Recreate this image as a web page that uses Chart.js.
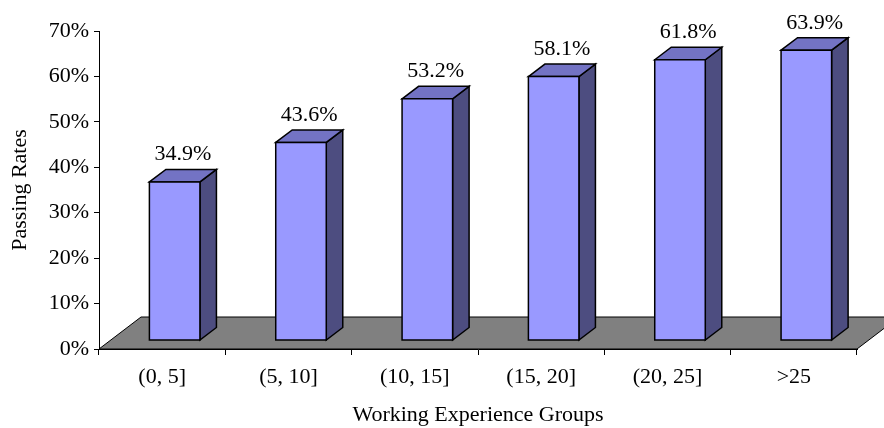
<!DOCTYPE html>
<html>
<head>
<meta charset="utf-8">
<script src="https://cdn.jsdelivr.net/npm/chart.js@4.4.0/dist/chart.umd.min.js"></script>
<style>
  body { margin: 0; background: #fff; }
  canvas { display: block; }
</style>
</head>
<body>
<canvas id="grafico" width="884" height="428"></canvas>
<script>
const grupos = ["(0, 5]", "(5, 10]", "(10, 15]", "(15, 20]", "(20, 25]", ">25"];
const tasas = [34.9, 43.6, 53.2, 58.1, 61.8, 63.9];
const ejeYMin = 0;
const ejeYMax = 70;
const ejeYPaso = 10;

const fuente = '"Times New Roman", "Liberation Serif", serif';
const tamFuente = 22;

// offsets of the fake 3D
const frente = { dx: 12.5, dy: -8.5 };   // where the front face sits on the floor
const fondo = { dx: 16.5, dy: -12.5 };   // depth of a bar
const piso = { dx: 42, dy: -32 };        // depth of the floor

const barras3D = {
  id: "barras3D",
  beforeDatasetsDraw(chart) {
    const ctx = chart.ctx;
    const area = chart.chartArea;
    const y0 = chart.scales.y.getPixelForValue(0);
    ctx.save();
    ctx.beginPath();
    ctx.moveTo(area.left, y0);
    ctx.lineTo(area.right, y0);
    ctx.lineTo(area.right + piso.dx, y0 + piso.dy);
    ctx.lineTo(area.left + piso.dx, y0 + piso.dy);
    ctx.closePath();
    ctx.fillStyle = "#808080";
    ctx.fill();
    ctx.lineWidth = 1;
    ctx.strokeStyle = "#000";
    ctx.stroke();
    ctx.restore();
  },
  afterDatasetsDraw(chart) {
    const ctx = chart.ctx;
    const meta = chart.getDatasetMeta(0);
    ctx.save();
    ctx.lineWidth = 1.5;
    ctx.strokeStyle = "#000";
    ctx.lineJoin = "miter";
    meta.data.forEach((barra, i) => {
      const p = barra.getProps(["x", "y", "base", "width"], true);
      const izq = p.x - p.width / 2 + frente.dx;
      const der = p.x + p.width / 2 + frente.dx;
      const arriba = p.y + frente.dy;
      const abajo = p.base + frente.dy;

      // side
      ctx.beginPath();
      ctx.moveTo(der, arriba);
      ctx.lineTo(der + fondo.dx, arriba + fondo.dy);
      ctx.lineTo(der + fondo.dx, abajo + fondo.dy);
      ctx.lineTo(der, abajo);
      ctx.closePath();
      ctx.fillStyle = "#4d4d80";
      ctx.fill();
      ctx.stroke();

      // top
      ctx.beginPath();
      ctx.moveTo(izq, arriba);
      ctx.lineTo(izq + fondo.dx, arriba + fondo.dy);
      ctx.lineTo(der + fondo.dx, arriba + fondo.dy);
      ctx.lineTo(der, arriba);
      ctx.closePath();
      ctx.fillStyle = "#7373c4";
      ctx.fill();
      ctx.stroke();

      // front
      ctx.beginPath();
      ctx.rect(izq, arriba, der - izq, abajo - arriba);
      ctx.fillStyle = "#9999ff";
      ctx.fill();
      ctx.stroke();

      // value label
      ctx.fillStyle = "#000";
      ctx.font = tamFuente + "px " + fuente;
      ctx.textAlign = "center";
      ctx.textBaseline = "alphabetic";
      ctx.fillText(tasas[i].toFixed(1) + "%", (izq + der) / 2 + fondo.dx / 2, arriba + fondo.dy - 9);
    });
    ctx.restore();
  }
};

Chart.defaults.color = "#000";
Chart.defaults.font.family = fuente;
Chart.defaults.font.size = tamFuente;

const canvas = document.getElementById("grafico");
const config = {
  type: "bar",
  data: {
    labels: grupos,
    datasets: [{
      label: "Passing Rates",
      data: tasas,
      backgroundColor: "rgba(0,0,0,0)",
      borderWidth: 0,
      barPercentage: 0.4,
      categoryPercentage: 1
    }]
  },
  options: {
    responsive: false,
    animation: false,
    layout: { padding: { top: 31, right: 27, bottom: 0, left: 0 } },
    plugins: {
      legend: { display: false },
      tooltip: { enabled: false }
    },
    scales: {
      x: {
        grid: { drawOnChartArea: false, drawTicks: true, tickLength: 6, color: "#000", offset: true },
        border: { display: true, color: "#000", width: 1 },
        ticks: { padding: 9 },
        title: { display: true, text: "Working Experience Groups", padding: { top: 0, bottom: 0 } },
        afterFit: (escala) => { escala.height = 79; }
      },
      y: {
        min: ejeYMin,
        max: ejeYMax,
        grid: { drawOnChartArea: false, drawTicks: true, tickLength: 5, color: "#000" },
        border: { display: true, color: "#000", width: 1 },
        ticks: { stepSize: ejeYPaso, padding: 5, callback: (v) => v + "%" },
        title: { display: true, text: "Passing Rates", padding: { top: 7, bottom: 0 } },
        afterFit: (escala) => { escala.width = 99; }
      }
    }
  },
  plugins: [barras3D]
};

new Chart(canvas, config);
</script>
</body>
</html>
